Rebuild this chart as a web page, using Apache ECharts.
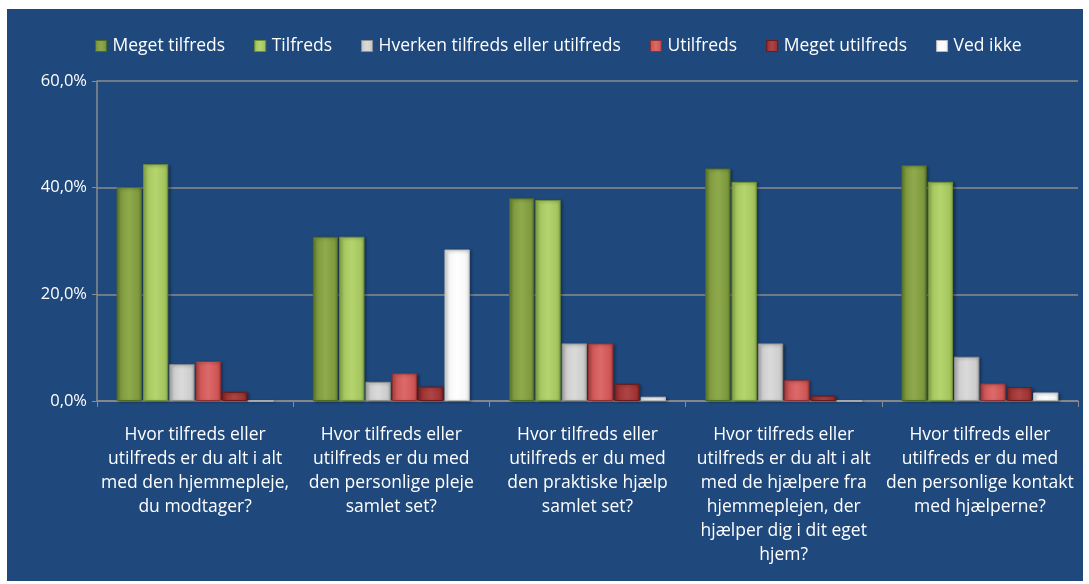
<!DOCTYPE html>
<html>
<head>
<meta charset="utf-8">
<script src="https://cdn.jsdelivr.net/npm/echarts@6/dist/echarts.min.js"></script>
<style>
html,body{margin:0;padding:0;background:#ffffff;width:1089px;height:584px;overflow:hidden;}
#chart{position:absolute;left:7px;top:9px;width:1076px;height:572px;background:#1F497D;}
</style>
</head>
<body>
<div id="chart"></div>
<script>
var categories = [
  "Hvor tilfreds eller\nutilfreds er du alt i alt\nmed den hjemmepleje,\ndu modtager?",
  "Hvor tilfreds eller\nutilfreds er du med\nden personlige pleje\nsamlet set?",
  "Hvor tilfreds eller\nutilfreds er du med\nden praktiske hjælp\nsamlet set?",
  "Hvor tilfreds eller\nutilfreds er du alt i alt\nmed de hjælpere fra\nhjemmeplejen, der\nhjælper dig i dit eget\nhjem?",
  "Hvor tilfreds eller\nutilfreds er du med\nden personlige kontakt\nmed hjælperne?"
];
var seriesNames = ["Meget tilfreds","Tilfreds","Hverken tilfreds eller utilfreds","Utilfreds","Meget utilfreds","Ved ikke"];
var megetTilfreds   = [40.1, 30.8, 38.0, 43.6, 44.2];
var tilfreds        = [44.4, 30.8, 37.7, 41.1, 41.1];
var hverken         = [6.9, 3.6, 10.8, 10.8, 8.3];
var utilfreds       = [7.5, 5.2, 10.8, 3.9, 3.3];
var megetUtilfreds  = [1.7, 2.7, 3.2, 1.0, 2.6];
var vedIkke         = [0.0, 28.4, 0.8, 0.0, 1.6];
var yTicks = [0, 20, 40, 60];

var allValues = [megetTilfreds, tilfreds, hverken, utilfreds, megetUtilfreds, vedIkke];
var palette = [
  {edge:'#5f7a2c', mid:'#7f9a3e', light:'#8faa4c', border:'#4f6a22'},
  {edge:'#87a848', mid:'#a5c65e', light:'#b5d46e', border:'#6f8f3a'},
  {edge:'#a9a9a9', mid:'#cdcdcd', light:'#dadada', border:'#8f8f8f'},
  {edge:'#b04040', mid:'#d05656', light:'#dc6a6a', border:'#8f3030'},
  {edge:'#7e2222', mid:'#a03434', light:'#ae4444', border:'#6a1c1c'},
  {edge:'#d8d8d8', mid:'#f6f6f6', light:'#ffffff', border:'#b8b8b8'}
];

function grad(p){
  return new echarts.graphic.LinearGradient(0,0,1,0,[
    {offset:0,color:p.edge},{offset:0.15,color:p.mid},{offset:0.5,color:p.light},{offset:0.85,color:p.mid},{offset:1,color:p.edge}
  ]);
}

var series = seriesNames.map(function(name,i){
  return {
    name:name,
    type:'bar',
    data:allValues[i],
    barGap:'4%',
    barCategoryGap:'20%',
    itemStyle:{color:grad(palette[i]),borderColor:palette[i].border,borderWidth:1,
      shadowColor:'rgba(0,0,0,0.35)',shadowBlur:3,shadowOffsetX:2,shadowOffsetY:1}
  };
});

var chart = echarts.init(document.getElementById('chart'), null, {renderer:'canvas'});
var font = '"Open Sans", Lato, sans-serif';
chart.setOption({
  animation:false,
  backgroundColor:'#1F497D',
  textStyle:{fontFamily:font},
  legend:{
    top:23,left:83,
    itemWidth:11,itemHeight:11,itemGap:29,
    icon:'rect',
    textStyle:{color:'#ffffff',fontSize:17.5,fontFamily:font,padding:[0,0,0,1]},
    data:seriesNames.map(function(n,i){return {name:n,itemStyle:{color:grad(palette[i]),borderColor:palette[i].border,borderWidth:1}};})
  },
  grid:{left:90,top:72,width:981,height:320,containLabel:false},
  xAxis:{
    type:'category',
    data:categories,
    axisLine:{lineStyle:{color:'#8c8c8c',width:1.5}},
    axisTick:{show:true,length:6,alignWithLabel:false,lineStyle:{color:'#8c8c8c'}},
    axisLabel:{interval:0,color:'#ffffff',fontSize:17.5,lineHeight:24,margin:22,fontFamily:font,align:'center'}
  },
  yAxis:{
    type:'value',
    min:0,max:60,interval:20,
    axisLine:{show:true,lineStyle:{color:'#8c8c8c',width:1.5}},
    axisTick:{show:true,length:5,lineStyle:{color:'#8c8c8c'}},
    splitLine:{show:true,lineStyle:{color:'#8c8c8c',width:1.5}},
    axisLabel:{color:'#ffffff',fontSize:16.5,margin:10,fontFamily:font,
      formatter:function(v){return v.toFixed(1).replace('.',',')+'%';}}
  },
  series:series
});
</script>
</body>
</html>
